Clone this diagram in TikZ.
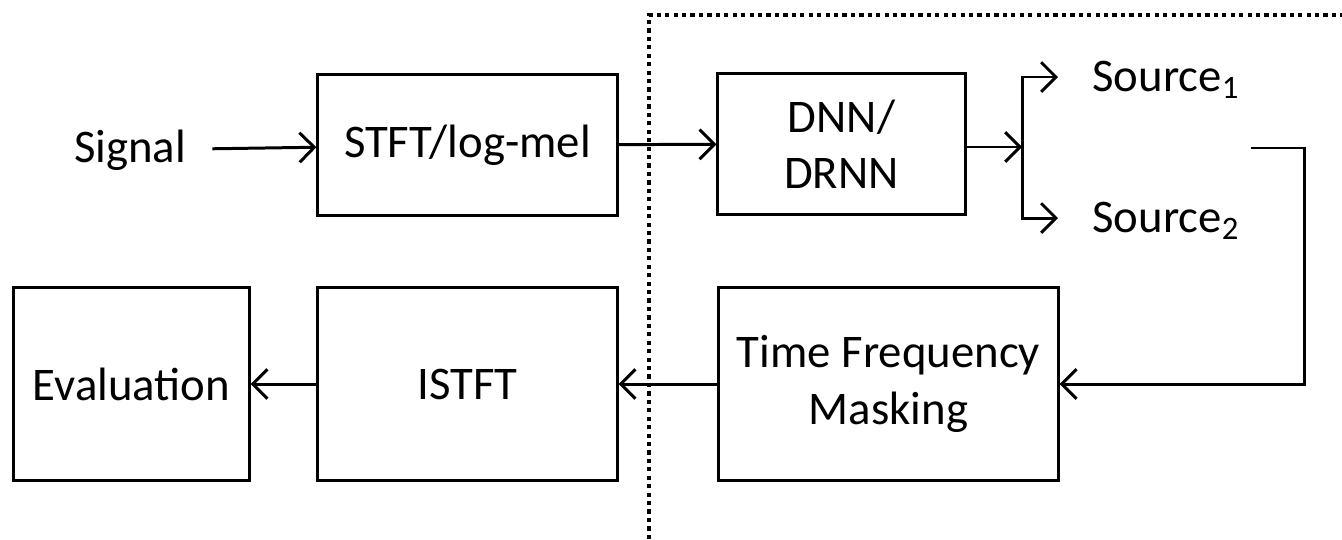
\documentclass[tikz,border=0pt]{standalone}
\usepackage{fontspec}
\setmainfont{Carlito}
\usepackage{tikz}
\usetikzlibrary{
  arrows.meta,
  positioning,
  calc,
}
\tikzset{
  block/.style={draw, line width=0.85pt, align=center},
  arr/.style={line width=0.85pt, -{Straight Barb[length=4.2pt,width=8.4pt,line width=0.85pt]}},
  dotline/.style={line width=1pt, dash pattern=on 1.2pt off 1.2pt},
}

\begin{document}
\begin{tikzpicture}[x=0.01cm, y=-0.01cm, font=\fontsize{13.3}{16}\selectfont]
  \useasboundingbox (0,0) rectangle (1342,539);
  % upper row
  \node (signal) at (130,150) {Signal};
  \node[block, minimum width=2.99cm, minimum height=1.40cm] (stft) at (467.5,145) {STFT/log-mel};
  \node[block, minimum width=2.47cm, minimum height=1.40cm] (dnn) at (841.5,144) {DNN/\\DRNN};
  \node[anchor=west] (src1) at (1080,80) {Source\textsubscript{1}};
  \node[anchor=west] (src2) at (1080,221) {Source\textsubscript{2}};
  % lower row
  \node[block, minimum width=3.39cm, minimum height=1.93cm] (tfm) at (888.5,384) {Time Frequency\\Masking};
  \node[block, minimum width=2.99cm, minimum height=1.93cm] (istft) at (467.5,384) {ISTFT};
  \node[block, minimum width=2.35cm, minimum height=1.93cm] (eval) at (131.5,384) {Evaluation};
  % connectors
  \coordinate (fork) at (1022,147);
  \coordinate (loop) at (1251,148);
  \draw[arr, shorten <=0.14cm] (signal) -- (stft);
  \draw[arr] (stft) -- (dnn);
  \draw[arr] (dnn.east |- fork) -- (fork);
  \draw[arr, shorten >=0.22cm] (fork) |- (src1.west |- 0,77);
  \draw[arr, shorten >=0.22cm] (fork) |- (src2.west |- 0,218);
  \draw[arr] (loop) -- ++(53,0) |- (tfm.east);
  \draw[arr] (tfm) -- (istft);
  \draw[arr] (istft) -- (eval);
  % separation region
  \draw[dotline] (649,539) -- (649,15) -- (1342,15);
\end{tikzpicture}
\end{document}
